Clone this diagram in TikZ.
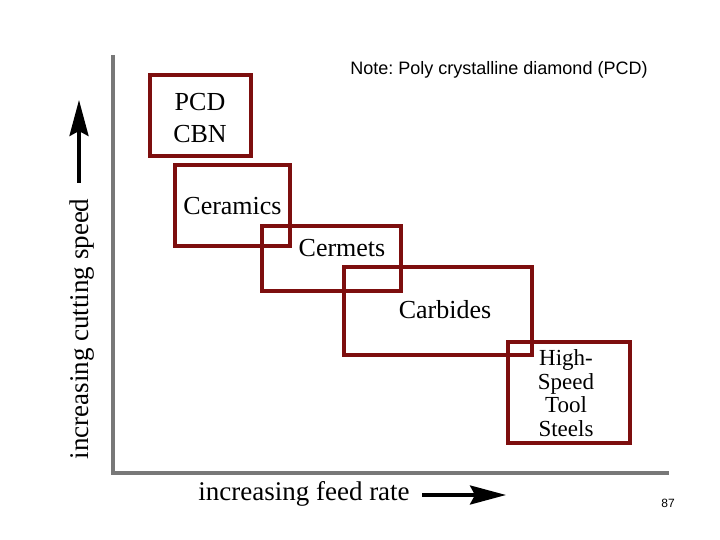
\documentclass[tikz,border=0pt]{standalone}
\usepackage{fontspec}
\setmainfont{Liberation Serif}
\newfontfamily\notefont{Liberation Sans}
\usepackage{tikz}
\usetikzlibrary{arrows.meta}
\definecolor{boxred}{RGB}{125,14,14}
\definecolor{axisgray}{RGB}{120,120,120}
\frenchspacing

\begin{document}
\begin{tikzpicture}[x=1pt, y=-1pt,
    matbox/.style={draw=boxred, line width=4pt, inner sep=0pt},
    mattext/.style={font=\fontsize{26}{32}\selectfont, align=center, inner sep=0pt},
    axislabel/.style={font=\fontsize{27}{32}\selectfont, inner sep=0pt},
    bigarrow/.style={line width=3.5pt, -{Stealth[length=36pt,width=19pt,inset=5pt]}}]
                \useasboundingbox (0,0) rectangle (720,540);
                % axes
                \coordinate (top) at (113,55);
                \coordinate (corner) at (113,472.5);
                \coordinate (right) at (669,472.5);
                \draw[axisgray, line width=4pt] (top) -- (corner) -- (right);
                % material boxes
                \node[matbox, minimum width=101pt, minimum height=81pt] (pcd) at (200.5,115.5) {};
                \node[matbox, minimum width=115pt, minimum height=81pt] (ceramics) at (232.5,205.5) {};
                \node[matbox, minimum width=139pt, minimum height=65pt] (cermets) at (331.5,258.5) {};
                \node[matbox, minimum width=188pt, minimum height=88pt] (carbides) at (438,311) {};
                \node[matbox, minimum width=122pt, minimum height=101pt] (hss) at (569,392.5) {};
                \node[mattext] (pcdtext) at (200,118) {PCD\\CBN};
                \node[mattext] (ceramicstext) at (232.5,206) {Ceramics};
                \node[mattext] (cermetstext) at (342,248) {Cermets};
                \node[mattext] (carbidestext) at (445,310) {Carbides};
                \node[mattext, font=\fontsize{23}{23.5}\selectfont] (hsstext) at (566,393) {High-\\Speed\\Tool\\Steels};
                % axis labels
                \node[axislabel, rotate=90] (speedlabel) at (82,329) {increasing cutting speed};
                \coordinate (speedtail) at (79,183);
                \coordinate (speedtip) at (79,100);
                \draw[bigarrow] (speedtail) -- (speedtip);
                \node[axislabel] (feedlabel) at (304,494) {increasing feed rate};
                \coordinate (feedtail) at (422,495);
                \coordinate (feedtip) at (506,495);
                \draw[bigarrow] (feedtail) -- (feedtip);
                % note and page number
                \node[font=\notefont\fontsize{18}{20}\selectfont, inner sep=0pt] (note) at (499,70) {Note: Poly crystalline diamond (PCD)};
                \node[font=\notefont\fontsize{12}{14}\selectfont, inner sep=0pt] (pagenum) at (668,503) {87};
            \end{tikzpicture}
\end{document}
